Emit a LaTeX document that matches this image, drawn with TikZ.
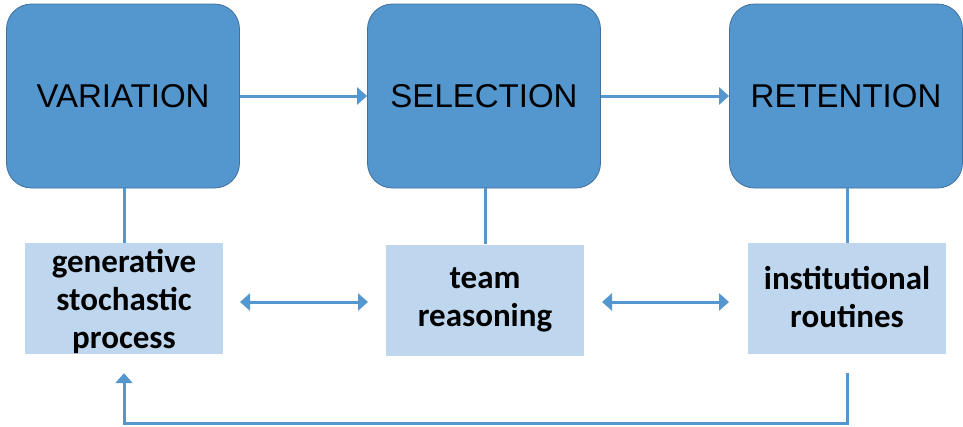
\documentclass[tikz,border=0pt]{standalone}
\usepackage{fontspec}
\usepackage{xcolor}
\usepackage{tikz}
\usetikzlibrary{positioning,calc,arrows.meta}
\newfontfamily\headfont{Liberation Sans}
\newfontfamily\boxfont{Carlito}
\definecolor{StageBlue}{RGB}{84,150,206}
\definecolor{StageEdge}{RGB}{65,113,156}
\definecolor{PaleBlue}{RGB}{190,215,238}
\tikzset{
    stagebox/.style={rectangle, rounded corners=25pt, draw=StageEdge, fill=StageBlue, line width=0.8pt, minimum width=233pt, minimum height=184pt, inner sep=0pt, font=\headfont\fontsize{33}{38}\selectfont},
    mechbox/.style={rectangle, fill=PaleBlue, minimum width=198pt, minimum height=111pt, inner sep=0pt},
    mechtext/.style={align=center, inner sep=0pt, font=\boxfont\bfseries\fontsize{33}{38}\selectfont},
    flow/.style={draw=StageBlue, line width=3pt}
}

\begin{document}
\begin{tikzpicture}[
                x=1pt, y=-1pt,
                % one-headed and two-headed connectors
                oneway/.style={flow, -{Triangle[length=10pt, width=17pt]}},
                twoway/.style={flow, {Triangle[length=10pt, width=17pt]}-{Triangle[length=10pt, width=17pt]}}
            ]
                \useasboundingbox (0,0) rectangle (963,426);
                % Three stages
                \node[stagebox] (var) at (123,96) {VARIATION};
                \node[stagebox] (sel) at (484,96) {SELECTION};
                \node[stagebox] (ret) at (846,96) {RETENTION};
                % Mechanism boxes
                \node[mechbox] (gen) at (124,298.5) {};
                \node[mechbox] (team) at (485,300) {};
                \node[mechbox] (inst) at (847,298.5) {};
                \node[mechtext] at ($(gen.center)+(0,3)$) {generative\\stochastic\\process};
                \node[mechtext] at (team.center) {team\\reasoning};
                \node[mechtext] at ($(inst.center)+(0,-1)$) {institutional\\routines};
                % Stage arrows
                \draw[oneway] (var.east) -- (sel.west);
                \draw[oneway] (sel.east) -- (ret.west);
                % Links stage - mechanism
                \draw[flow] (gen.north) -- (gen.north |- var.south);
                \draw[flow] (team.north) -- (team.north |- sel.south);
                \draw[flow] (inst.north) -- (inst.north |- ret.south);
                % Mechanism arrows
                \draw[twoway] (240,302) coordinate (ga) -- (368,302) coordinate (tb);
                \draw[twoway] (602,302) coordinate (tc) -- (729,302) coordinate (ic);
                % Feedback loop
                \coordinate (fbstart) at ($(inst.south)+(0,19)$);
                \coordinate (fbend) at ($(gen.south)+(0,19)$);
                \draw[oneway] (fbstart) -- ++(0,50) -| (fbend);
            \end{tikzpicture}
\end{document}
